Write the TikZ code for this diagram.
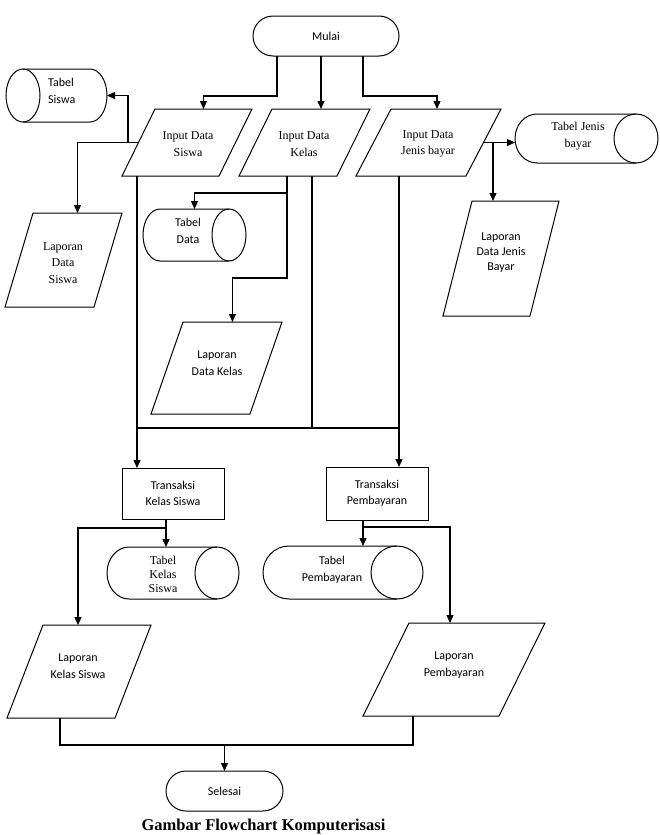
\documentclass[tikz,border=0pt]{standalone}
\usepackage{fontspec}
\setmainfont{Liberation Serif}
\newfontfamily\carl{Carlito}
\usetikzlibrary{arrows.meta}
\tikzset{
  geo/.style={inner sep=0pt, outer sep=0pt},
  term/.style={draw, line width=1pt, rounded corners=20pt, inner sep=0pt, outer sep=0pt, font=\carl\fontsize{12}{16.5}\selectfont},
  proc/.style={draw, line width=1pt, inner sep=0pt, outer sep=0pt, align=center, font=\carl\fontsize{12}{16.5}\selectfont},
  shp/.style={line width=1pt},
  ln/.style={line width=1.3pt},
  arr/.style={ln, -{Triangle[length=8pt,width=7pt]}},
  sans/.style={font=\carl\fontsize{12}{16.5}\selectfont, align=center, inner sep=0pt},
  serif/.style={font=\fontsize{12}{16.5}\selectfont, align=center, inner sep=0pt}
}
% parallelogram on node #1 with slant #2
\newcommand\mypara[2]{\draw[shp] ([xshift=#2]#1.north west) -- (#1.north east) -- ([xshift=-#2]#1.south east) -- (#1.south west) -- cycle;}
% cylinder, full ellipse on the right
\newcommand\mycylR[3]{\draw[shp] ([xshift=-#2]#1.north east) -- ([xshift=#2]#1.north west) arc[start angle=90,end angle=270,x radius=#2,y radius=#3] -- ([xshift=-#2]#1.south east);
  \draw[shp] ([xshift=-#2]#1.east) ellipse[x radius=#2,y radius=#3];}
% cylinder, full ellipse on the left
\newcommand\mycylL[3]{\draw[shp] ([xshift=#2]#1.north west) -- ([xshift=-#2]#1.north east) arc[start angle=90,end angle=-90,x radius=#2,y radius=#3] -- ([xshift=#2]#1.south west);
  \draw[shp] ([xshift=#2]#1.west) ellipse[x radius=#2,y radius=#3];}
\begin{document}
\begin{tikzpicture}[x=1pt,y=-1pt]
\useasboundingbox (0,0) rectangle (659,835);
% terminals
\node[term, minimum width=146pt, minimum height=40pt] (mulai) at (326,36) {Mulai};
\node[term, minimum width=117pt, minimum height=40pt] (selesai) at (224.5,791) {Selesai};
% input parallelograms
\node[geo, minimum width=130pt, minimum height=67pt] (insis) at (187,142.5) {};
\node[geo, minimum width=131pt, minimum height=67pt] (inkel) at (304.5,142.5) {};
\node[geo, minimum width=145pt, minimum height=67pt] (injen) at (428.5,142.5) {};
\mypara{insis}{33}
\mypara{inkel}{33}
\mypara{injen}{35}
\node[serif] (insisT) at (188,144) {Input Data\\Siswa};
\node[serif] (inkelT) at (304,144) {Input Data\\Kelas};
\node[serif] (injenT) at (428,144) {Input Data\\Jenis bayar};
% report parallelograms
\node[geo, minimum width=117pt, minimum height=94pt] (lsiswa) at (63.5,260) {};
\node[geo, minimum width=131pt, minimum height=92pt] (lkelas) at (216.5,368) {};
\node[geo, minimum width=116pt, minimum height=115pt] (ljenis) at (501,258.5) {};
\node[geo, minimum width=144pt, minimum height=93pt] (lks) at (79,671.5) {};
\node[geo, minimum width=182pt, minimum height=93pt] (lp) at (454,669.5) {};
\mypara{lsiswa}{28}
\mypara{lkelas}{32}
\mypara{ljenis}{29}
\mypara{lks}{36}
\mypara{lp}{46}
\node[serif] (lsiswaT) at (63,263) {Laporan\\Data\\Siswa};
\node[sans] (lkelasT) at (217,363) {Laporan\\Data Kelas};
\node[sans, font=\carl\fontsize{12}{15}\selectfont] (ljenisT) at (501,253) {Laporan\\Data Jenis\\Bayar};
\node[sans] (lksT) at (78,666) {Laporan\\Kelas Siswa};
\node[sans] (lpT) at (454,665) {Laporan\\Pembayaran};
% cylinders
\node[geo, minimum width=101pt, minimum height=53pt] (tsiswa) at (56.5,95.5) {};
\node[geo, minimum width=103pt, minimum height=52pt] (tdata) at (194.5,235) {};
\node[geo, minimum width=143pt, minimum height=49pt] (tjenis) at (586.5,138.5) {};
\node[geo, minimum width=132pt, minimum height=52pt] (tksis) at (173,573) {};
\node[geo, minimum width=160pt, minimum height=53pt] (tpemb) at (343,572.5) {};
\mycylL{tsiswa}{17pt}{26.5pt}
\mycylR{tdata}{17pt}{26pt}
\mycylR{tjenis}{22pt}{24.5pt}
\mycylR{tksis}{22pt}{26pt}
\mycylR{tpemb}{26pt}{26.5pt}
\node[sans, anchor=west, align=left] (tsiswaT) at (48,91) {Tabel\\Siswa};
\node[sans] (tdataT) at (188,231) {Tabel\\Data};
\node[serif] (tjenisT) at (578,136) {Tabel Jenis\\bayar};
\node[serif, font=\fontsize{12}{14}\selectfont] (tksisT) at (163,574) {Tabel\\Kelas\\Siswa};
\node[sans] (tpembT) at (332,570) {Tabel\\Pembayaran};
% process boxes
\node[proc, minimum width=102pt, minimum height=51pt] (tks) at (173,493.5) {Transaksi\\Kelas Siswa};
\node[proc, minimum width=102pt, minimum height=53pt] (tp) at (377,493.5) {Transaksi\\Pembayaran};
% caption
\node[font=\bfseries\fontsize{16.5}{18}\selectfont, anchor=base, inner sep=0pt] (cap) at (263.5,830) {Gambar Flowchart Komputerisasi};
% junction coordinates
\coordinate (j1) at (128,142.5);
\coordinate (j2) at (493,142.5);
\coordinate (j3) at (166,528);
\coordinate (j4) at (363,527);
\coordinate (busL) at (137,428);
\coordinate (busR) at (399,428);
% connectors from Mulai
\draw[arr] ([xshift=-49]mulai.south) |- ([xshift=16.5,yshift=13]insis.north) -- ([xshift=16.5]insis.north);
\draw[arr] ([xshift=-5]mulai.south) -- ([xshift=-5]mulai.south |- inkel.north);
\draw[arr] ([xshift=37]mulai.south) |- ([xshift=8.5,yshift=13]injen.north) -- ([xshift=8.5]injen.north);
% Input Data Siswa
\draw[arr] ([xshift=16.5]insis.west) -| ([xshift=14]lsiswa.north);
\draw[arr] (j1) |- (tsiswa.east);
\draw[arr] ([xshift=-50]insis.south) -- ([xshift=-50]insis.south |- tks.north);
% Input Data Kelas
\draw[arr] ([xshift=-17.5]inkel.south) |- ([yshift=16]tdata.north) -- (tdata.north);
\draw[arr] ([xshift=-17.5]inkel.south) |- ([xshift=16,yshift=44]lkelas.north) -- ([xshift=16]lkelas.north);
\draw[ln] ([xshift=7.5]inkel.south) -- ([xshift=7.5]inkel.south |- busL);
\draw[ln] (busL) -- (busR);
% Input Data Jenis bayar
\draw[arr] ([xshift=-29.5]injen.south) -- ([xshift=-29.5]injen.south |- tp.north);
\draw[arr] ([xshift=-17.5]injen.east) -- (tjenis.west |- injen.east);
\draw[arr] (j2) -- (j2 |- ljenis.north);
% Transaksi Kelas Siswa
\draw[arr] ([xshift=-7]tks.south) -- ([xshift=-7]tks.south |- tksis.north);
\draw[arr] (j3) -| ([xshift=-1]lks.north);
% Transaksi Pembayaran
\draw[arr] ([xshift=-14]tp.south) -- ([xshift=-14]tp.south |- tpemb.north);
\draw[arr] (j4) -| ([xshift=-4]lp.north);
% to Selesai
\draw[ln] ([xshift=-19]lks.south) |- ([xshift=-41,yshift=-29]lp.south) -- ([xshift=-41]lp.south);
\draw[arr] ([yshift=26]selesai.north) -- (selesai.north);
\end{tikzpicture}
\end{document}
